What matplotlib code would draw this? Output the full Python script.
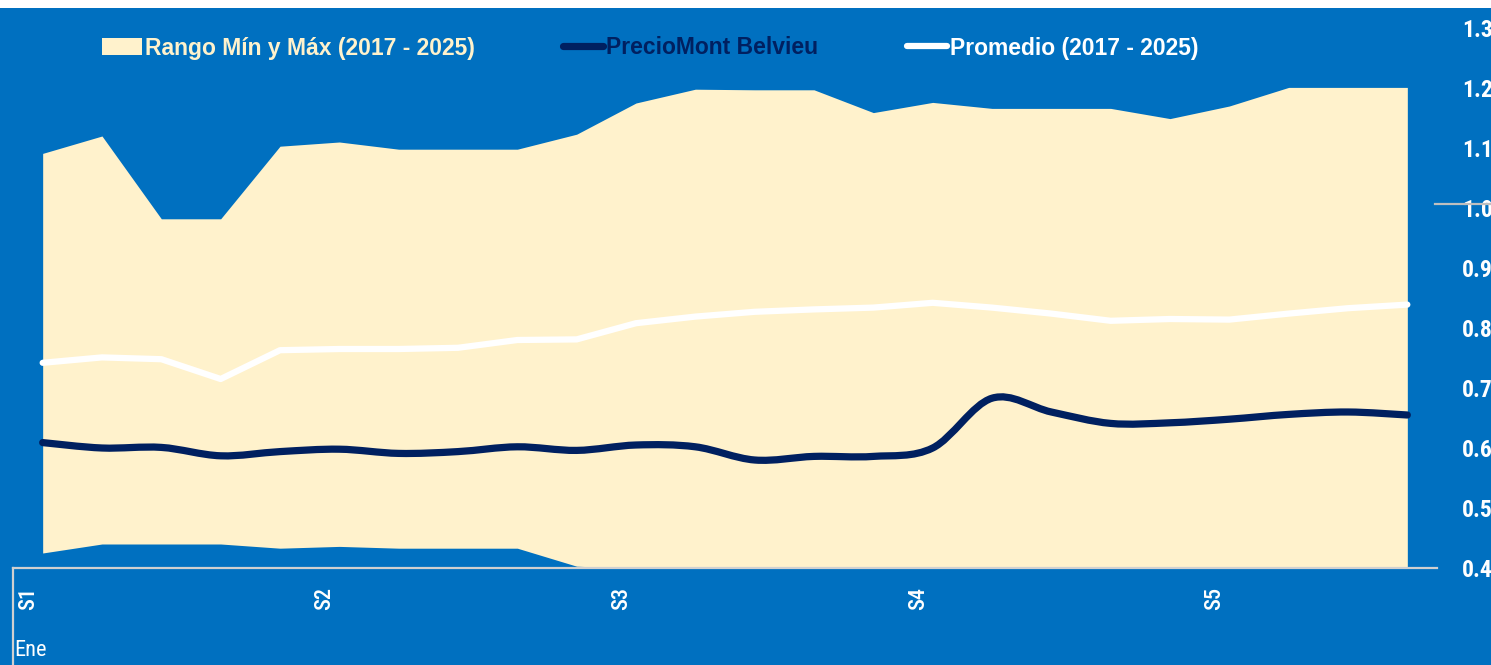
import numpy as np
import matplotlib
matplotlib.use("Agg")
import matplotlib.pyplot as plt
from matplotlib.path import Path
from matplotlib.patches import PathPatch, Patch, Rectangle
from matplotlib.lines import Line2D
from matplotlib.transforms import ScaledTranslation

# ---------------- data ----------------
categories = ["S1", "", "", "", "", "S2", "", "", "", "", "S3", "", "", "", "",
              "S4", "", "", "", "", "S5", "", "", ""]
month_label = "Ene"

rango_max = [1.091, 1.120, 0.982, 0.982, 1.103, 1.110, 1.098, 1.098, 1.098, 1.123,
             1.175, 1.198, 1.197, 1.197, 1.159, 1.176, 1.166, 1.166, 1.166, 1.149,
             1.170, 1.201, 1.201, 1.201]
rango_min = [0.425, 0.440, 0.440, 0.440, 0.433, 0.436, 0.433, 0.433, 0.433, 0.403,
             0.399, 0.390, 0.390, 0.390, 0.390, 0.390, 0.390, 0.390, 0.390, 0.390,
             0.390, 0.390, 0.390, 0.390]
promedio = [0.742, 0.751, 0.748, 0.715, 0.763, 0.765, 0.765, 0.767, 0.780, 0.781,
            0.808, 0.819, 0.827, 0.831, 0.834, 0.842, 0.834, 0.824, 0.812, 0.815,
            0.814, 0.824, 0.833, 0.839]
precio_mb = [0.609, 0.600, 0.601, 0.587, 0.594, 0.598, 0.591, 0.594, 0.602, 0.596,
             0.605, 0.602, 0.580, 0.586, 0.586, 0.600, 0.683, 0.660, 0.641, 0.642,
             0.648, 0.656, 0.660, 0.655]

y_ticks = [0.4, 0.5, 0.6, 0.7, 0.8, 0.9, 1.0, 1.1, 1.2, 1.3]
legend_labels = ["Rango Mín y Máx (2017 - 2025)", "PrecioMont Belvieu", "Promedio (2017 - 2025)"]

# ---------------- style ----------------
BLUE = "#0070C0"
CREAM = "#FFF2CC"
NAVY = "#002060"
GREY = "#D0D0D0"
FAM = ["Roboto Condensed", "Liberation Sans Narrow", "Liberation Sans", "DejaVu Sans"]
LEG_FAM = ["Liberation Sans", "DejaVu Sans"]
plt.rcParams["font.family"] = FAM

W, H = 1491, 665
fig = plt.figure(figsize=(W / 100, H / 100), dpi=100)
fig.patch.set_facecolor(BLUE)
fig.patches.append(Rectangle((0, 1 - 8 / H), 1, 8 / H, transform=fig.transFigure,
                             facecolor="white", edgecolor="none", zorder=0))

ax = fig.add_axes([13 / W, 1 - 568 / H, (1437 - 13) / W, (568 - 28) / H])
ax.set_facecolor("none")

x = np.arange(len(categories))

ax.fill_between(x, rango_min, rango_max, color=CREAM, lw=0, zorder=1)
ax.plot(x, promedio, color="white", lw=4.5, solid_capstyle="round",
        solid_joinstyle="round", zorder=3)

# smoothed (Excel-style) line for price: cubic Bezier through the points
pts = np.column_stack([x, precio_mb]).astype(float)
verts = [tuple(pts[0])]
codes = [Path.MOVETO]
n = len(pts)
for i in range(n - 1):
    p0 = pts[i - 1] if i > 0 else pts[i]
    p1 = pts[i]
    p2 = pts[i + 1]
    p3 = pts[i + 2] if i + 2 < n else pts[i + 1]
    c1 = p1 + (p2 - p0) / 6.0
    c2 = p2 - (p3 - p1) / 6.0
    verts += [tuple(c1), tuple(c2), tuple(p2)]
    codes += [Path.CURVE4] * 3
path = Path(verts, codes)
ax.add_patch(PathPatch(path, facecolor="none", edgecolor=NAVY, lw=5.2,
                       capstyle="round", joinstyle="round", zorder=4,
                       transform=ax.transData))

ax.set_xlim(-0.5, len(categories) - 0.5)
ax.set_ylim(y_ticks[0], y_ticks[-1])

# axes styling
for s in ["top", "left", "right"]:
    ax.spines[s].set_visible(False)
ax.spines["bottom"].set_color(GREY)
ax.spines["bottom"].set_linewidth(1.6)
ax.spines["bottom"].set_zorder(5)

ax.yaxis.tick_right()
ax.set_yticks(y_ticks)
ax.set_yticklabels([f"{v:.1f}" for v in y_ticks])
ax.tick_params(axis="y", length=0, pad=18, labelsize=17, labelcolor="white")
for lab in ax.get_yticklabels():
    lab.set_fontweight("bold")

tick_pos = [i for i, c in enumerate(categories) if c]
ax.set_xticks(tick_pos)
ax.set_xticklabels([categories[i] for i in tick_pos], rotation=90, va="top", ha="center")
ax.tick_params(axis="x", length=0, pad=13.5, labelsize=16, labelcolor="white")
off = ScaledTranslation(-15 / 100, 0, fig.dpi_scale_trans)
for lab in ax.get_xticklabels():
    lab.set_transform(lab.get_transform() + off)
    lab.set_fontweight("medium")

# category separator on the left, below the axis
ax.plot([0, 0], [0, -0.2], transform=ax.transAxes, color=GREY, lw=1.6,
        clip_on=False, zorder=5)
# stray grey tick near 1.0 on the right
ax.plot([0.9986, 1.05], [1.007, 1.007], transform=ax.get_yaxis_transform(),
        color="#BFBFBF", lw=1.6, clip_on=False, zorder=5)

fig.text(14 / W, 1 - 650 / H, month_label, color="white", fontsize=16,
         va="center", ha="left")

# legend
handles = [Patch(facecolor=CREAM, edgecolor="none"),
           Line2D([], [], color=NAVY, lw=5.2, solid_capstyle="round"),
           Line2D([], [], color="white", lw=4.5, solid_capstyle="round")]
leg = fig.legend(handles, legend_labels, loc="center left",
                 bbox_to_anchor=(102 / W, 1 - 48 / H), ncol=3, frameon=False,
                 prop={"family": LEG_FAM, "weight": "bold", "size": 16.5},
                 handlelength=1.75, handletextpad=0.13, columnspacing=3.85,
                 borderpad=0, borderaxespad=0, handleheight=0.74)
for t, c in zip(leg.get_texts(), [CREAM, NAVY, "white"]):
    t.set_color(c)

fig.savefig("out.png", dpi=100, facecolor=fig.get_facecolor())
